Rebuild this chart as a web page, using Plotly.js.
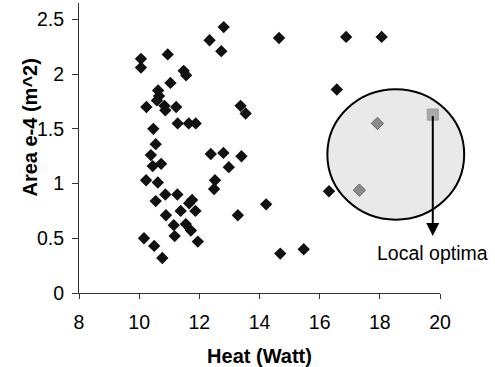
<!DOCTYPE html>
<html>
<head>
<meta charset="utf-8">
<script src="https://cdn.plot.ly/plotly-3.0.1.min.js"></script>
<style>html,body{margin:0;padding:0;background:#fff;}#chart{width:495px;height:367px;}</style>
</head>
<body>
<div id="chart"></div>
<script>
// Design points (black diamonds)
var heatX = [10.06,10.06,10.95,12.34,12.81,12.73,11.48,11.56,11.04,10.63,10.66,10.59,10.24,10.84,10.87,11.23,13.37,13.54,11.28,11.65,11.88,10.47,10.55,10.39,10.45,10.73,10.23,10.62,12.38,12.80,13.40,12.98,12.52,12.49,10.87,11.27,10.55,11.76,11.66,10.89,11.38,11.87,13.28,11.15,11.55,11.72,11.18,10.16,11.95,10.50,10.77,14.65,16.88,18.06,16.57,16.31,14.22,14.69,15.47];
var areaY = [2.14,2.06,2.18,2.31,2.43,2.21,2.03,1.99,1.92,1.85,1.80,1.76,1.70,1.71,1.67,1.70,1.71,1.64,1.55,1.55,1.55,1.50,1.36,1.26,1.16,1.18,1.03,1.01,1.27,1.28,1.25,1.15,1.03,0.95,0.90,0.90,0.84,0.85,0.82,0.71,0.75,0.75,0.71,0.62,0.63,0.57,0.52,0.50,0.47,0.43,0.32,2.33,2.34,2.34,1.86,0.93,0.81,0.36,0.40];
// Local optima (gray diamonds) and the highlighted optimum (gray square)
var optX = [17.92,17.32];
var optY = [1.55,0.94];
var bestX = [19.76];
var bestY = [1.63];
var arrowTipY = 0.52;
var labelY = 0.37;
var xTicks = [8,10,12,14,16,18,20];
var yTicks = [0,0.5,1,1.5,2,2.5];
var yTickText = ['0','0.5','1','1.5','2','2.5'];

var traces = [
  {x: heatX, y: areaY, type: 'scatter', mode: 'markers',
   marker: {symbol: 'diamond', size: 9.5, color: '#111111'}, hoverinfo: 'skip'},
  {x: optX, y: optY, type: 'scatter', mode: 'markers',
   marker: {symbol: 'diamond', size: 9.5, color: '#8a8a8a', line: {color: '#6a6a6a', width: 1}}},
  {x: bestX, y: bestY, type: 'scatter', mode: 'markers',
   marker: {symbol: 'square', size: 11, color: '#aaaaaa', line: {color: '#999999', width: 1}}}
];

var fam = 'Liberation Sans, Arial, sans-serif';
var axisFont = {family: fam, size: 19.5, color: '#000'};
var titleFont = {family: fam, size: 20, color: '#000', weight: 'bold'};

var layout = {
  width: 495, height: 367,
  margin: {l: 79, r: 55, t: 3, b: 74},
  paper_bgcolor: '#fff', plot_bgcolor: '#fff',
  showlegend: false,
  xaxis: {range: [8, 20], tickvals: xTicks, ticktext: xTicks.map(String),
    showgrid: false, zeroline: false, showline: true, linecolor: '#333', linewidth: 1,
    ticks: 'outside', ticklen: 5, tickcolor: '#333', tickfont: axisFont,
    ticklabelstandoff: 7,
    title: {text: 'Heat (Watt)', font: titleFont, standoff: 16}},
  yaxis: {range: [0, 2.65], tickvals: yTicks, ticktext: yTickText,
    showgrid: false, zeroline: false, showline: true, linecolor: '#333', linewidth: 1,
    ticks: 'outside', ticklen: 6, tickcolor: '#333', tickfont: axisFont,
    ticklabelstandoff: 4},
  shapes: [
    {type: 'circle', xref: 'paper', yref: 'paper', layer: 'below',
     x0: 0.688, x1: 1.067, y0: 0.253, y1: 0.703,
     fillcolor: '#e9e9e9', line: {color: '#000', width: 2}}
  ],
  annotations: [
    {x: -0.137, y: 0.569, xref: 'paper', yref: 'paper', text: 'Area e-4 (m^2)',
     textangle: -90, showarrow: false, xanchor: 'center', yanchor: 'middle', font: titleFont},
    {x: bestX[0], y: arrowTipY, ax: bestX[0], ay: bestY[0], axref: 'x', ayref: 'y',
     xref: 'x', yref: 'y', text: '', showarrow: true, arrowhead: 2, arrowsize: 1.3,
     arrowwidth: 2, arrowcolor: '#000'},
    {x: bestX[0], y: labelY, xref: 'x', yref: 'y', text: 'Local optima', showarrow: false,
     font: {family: fam, size: 19.5, color: '#000'}}
  ]
};

Plotly.newPlot('chart', traces, layout, {displayModeBar: false, staticPlot: true});
</script>
</body>
</html>
